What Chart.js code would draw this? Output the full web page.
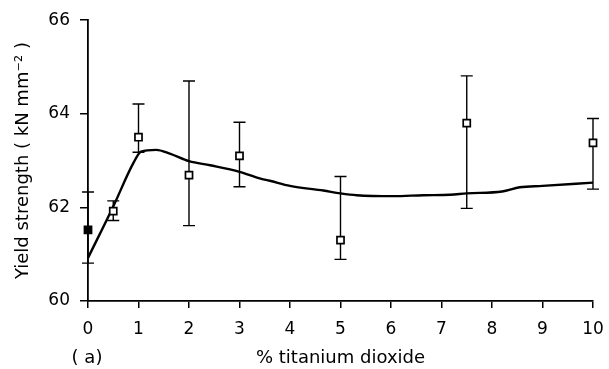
<!DOCTYPE html>
<html>
<head>
<meta charset="utf-8">
<script src="https://cdn.jsdelivr.net/npm/chart.js@4"></script>
<style>
  html, body { margin: 0; padding: 0; background: #fff; }
</style>
</head>
<body>
<canvas id="chart" width="609" height="369"></canvas>
<script>
// smooth fitted curve
const curveX = [0, 0.5, 0.9, 1.05, 1.35, 1.62, 2, 2.42, 3, 3.4, 3.6, 4, 4.66, 5, 5.32, 6.05, 6.64, 7.17, 7.5, 8.2, 8.55, 9, 10];
const curveY = [60.92, 62.02, 62.95, 63.19, 63.23, 63.15, 62.99, 62.9, 62.76, 62.62, 62.57, 62.46, 62.36, 62.3, 62.26, 62.24, 62.26, 62.27, 62.3, 62.34, 62.43, 62.46, 62.53];

// measured points with error bars
const pctTiO2 = [0, 0.5, 1, 2, 3, 5, 7.5, 10];
const yieldMean = [61.52, 61.92, 63.5, 62.69, 63.1, 61.3, 63.8, 63.38];
const yieldHigh = [62.33, 62.14, 64.21, 64.7, 63.82, 62.66, 64.81, 63.9];
const yieldLow = [60.81, 61.72, 63.18, 61.61, 62.44, 60.89, 61.98, 62.39];

const xTicks = [0, 1, 2, 3, 4, 5, 6, 7, 8, 9, 10];
const yTicks = [60, 62, 64, 66];

const FONT = "'DejaVu Sans', sans-serif";

const errorBars = {
  id: 'errorBars',
  beforeDatasetsDraw(chart) {
    const { ctx, scales: { x, y } } = chart;
    ctx.save();
    ctx.strokeStyle = '#000';
    ctx.lineWidth = 1.4;
    pctTiO2.forEach((v, i) => {
      const px = x.getPixelForValue(v);
      const hi = y.getPixelForValue(yieldHigh[i]);
      const lo = y.getPixelForValue(yieldLow[i]);
      ctx.beginPath();
      ctx.moveTo(px, hi); ctx.lineTo(px, lo);
      ctx.moveTo(px - 6, hi); ctx.lineTo(px + 6, hi);
      ctx.moveTo(px - 6, lo); ctx.lineTo(px + 6, lo);
      ctx.stroke();
    });
    ctx.restore();
  }
};

const panelLabel = {
  id: 'panelLabel',
  afterDraw(chart) {
    const ctx = chart.ctx;
    ctx.save();
    ctx.fillStyle = '#000';
    ctx.font = '18px ' + FONT;
    ctx.textAlign = 'center';
    ctx.textBaseline = 'middle';
    ctx.fillText('( a)', 87, 358);
    ctx.restore();
  }
};

const ctx = document.getElementById('chart').getContext('2d');
new Chart(ctx, {
  type: 'scatter',
  data: {
    datasets: [
      {
        label: 'fit',
        data: curveX.map((x, i) => ({ x: x, y: curveY[i] })),
        showLine: true,
        borderColor: '#000',
        borderWidth: 2.4,
        pointRadius: 0,
        cubicInterpolationMode: 'monotone',
        clip: false,
        order: 2
      },
      {
        label: 'measured',
        data: pctTiO2.map((x, i) => ({ x: x, y: yieldMean[i] })),
        pointStyle: 'rect',
        pointRadius: 5,
        pointBorderWidth: 1.7,
        pointBorderColor: '#000',
        pointBackgroundColor: pctTiO2.map((x) => (x === 0 ? '#000' : '#fff')),
        clip: false,
        order: 1
      }
    ]
  },
  options: {
    responsive: false,
    animation: false,
    layout: { autoPadding: false, padding: { top: 20, right: 16, bottom: 0, left: 0 } },
    plugins: {
      legend: { display: false },
      tooltip: { enabled: false }
    },
    scales: {
      x: {
        type: 'linear',
        min: 0,
        max: 10,
        afterFit: (s) => { s.height = 68; s.paddingLeft = 0; s.paddingRight = 0; },
        afterBuildTicks: (s) => { s.ticks = xTicks.map((v) => ({ value: v })); },
        ticks: { color: '#000', font: { family: FONT, size: 17 }, padding: 11, maxRotation: 0 },
        grid: { drawOnChartArea: false, color: '#000', tickLength: 7, lineWidth: 1.5 },
        border: { color: '#000', width: 1.8 },
        title: {
          display: true,
          text: '% titanium dioxide',
          color: '#000',
          font: { family: FONT, size: 18 },
          padding: { top: 0, bottom: 0 }
        }
      },
      y: {
        min: 60,
        max: 66,
        afterFit: (s) => { s.width = 88; },
        afterBuildTicks: (s) => { s.ticks = yTicks.map((v) => ({ value: v })); },
        ticks: { color: '#000', font: { family: FONT, size: 17 }, padding: 10 },
        grid: { drawOnChartArea: false, color: '#000', tickLength: 8, lineWidth: 1.5 },
        border: { color: '#000', width: 1.8 },
        title: {
          display: true,
          text: 'Yield strength ( kN mm\u207B\u00B2 )',
          color: '#000',
          font: { family: FONT, size: 18 },
          padding: { top: 13, bottom: 0 }
        }
      }
    }
  },
  plugins: [errorBars, panelLabel]
});
</script>
</body>
</html>
